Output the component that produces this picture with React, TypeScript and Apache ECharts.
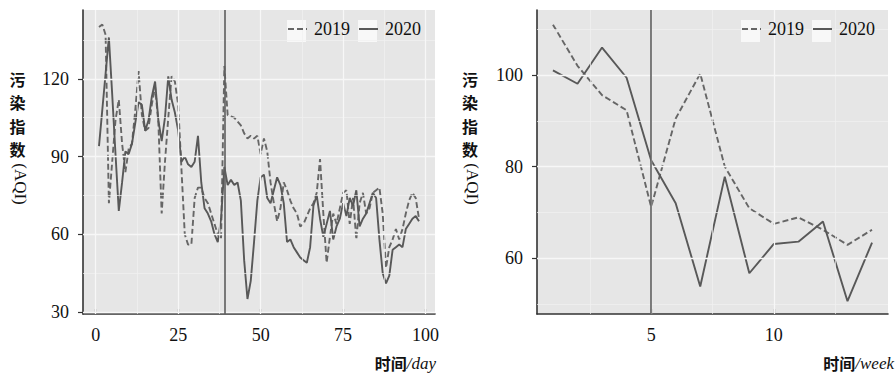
import React, { useEffect, useRef } from 'react';
import * as echarts from 'echarts';

// ---------- data ----------
const seriesNames = ['2019', '2020'];

// daily AQI, day 1..98
const dailyAqi2019 = [
  140, 141, 137, 72, 88, 104, 112, 95, 84, 93,
  95, 108, 123, 106, 100, 101, 110, 117, 103, 68,
  88, 105, 121, 119, 110, 85, 60, 56, 56, 74,
  78, 78, 74, 72, 68, 64, 60, 58, 125, 106,
  105.5, 105, 103.5, 102, 99, 97, 98, 97, 98, 91,
  97, 92, 80, 72, 65, 70, 80, 77, 73, 70,
  68, 63, 64, 67, 70, 72, 76, 89, 68, 49,
  59, 68, 64, 70, 76, 77, 64, 74, 58, 72,
  76, 68, 70, 76, 77, 78, 68, 47, 55, 58,
  62, 58, 62, 68, 73, 76, 74, 66,
];
const dailyAqi2020 = [
  94, 108, 122, 136, 114, 91, 69, 80, 92, 91,
  95, 103, 111, 110, 100, 104, 113, 119, 104, 96,
  105, 121, 112, 107, 100, 88, 90, 87, 86, 88,
  98, 80, 70, 68, 65, 60, 57, 66, 86, 79,
  81, 79, 80, 73, 50, 35, 42, 57, 73, 82,
  83, 74, 72, 77, 82, 79, 72, 57, 58, 55,
  53, 51, 50, 49, 55, 71, 75, 66, 59, 64,
  69, 58, 63, 66, 72, 67, 74, 71, 77, 63,
  66, 68, 72, 76, 74, 58, 45, 41, 44, 54,
  55, 56, 55, 62, 64, 66, 67, 65,
];

// weekly AQI, week 1..14
const weeklyAqi2019 = [111, 102, 95.6, 92.3, 71.2, 90.5, 100.3, 80, 70.9, 67.5, 68.9, 66.2, 62.9, 66.2];
const weeklyAqi2020 = [101, 98.1, 106, 99.4, 81.4, 72, 53.8, 77.8, 56.7, 63.1, 63.6, 68, 50.6, 63.4];

const dayTicks = [0, 25, 50, 75, 100];
const dayMinorTicks = [12.5, 37.5, 62.5, 87.5];
const dayAqiTicks = [30, 60, 90, 120];
const dayAqiMinorTicks = [45, 75, 105, 135];
const weekTicks = [5, 10];
const weekMinorTicks = [2.5, 7.5, 12.5];
const weekAqiTicks = [60, 80, 100];
const weekAqiMinorTicks = [50, 70, 90, 110];
const dayMarker = 39;
const weekMarker = 5;

// ---------- styles ----------
const SERIF = 'Liberation Serif';
const CJK = 'Noto Sans CJK SC';
const LINE_2019 = '#666666';
const LINE_2020 = '#585858';
const majorGrid = { color: '#f7f7f7', width: 1.3, type: 'solid' as const };
const minorGrid = { color: '#f1f1f1', width: 0.7, type: 'solid' as const };

function gridLines(xMajor: number[], xMinor: number[], yMajor: number[], yMinor: number[]) {
  return [
    ...xMinor.map((v) => ({ xAxis: v, lineStyle: minorGrid })),
    ...yMinor.map((v) => ({ yAxis: v, lineStyle: minorGrid })),
    ...xMajor.map((v) => ({ xAxis: v, lineStyle: majorGrid })),
    ...yMajor.map((v) => ({ yAxis: v, lineStyle: majorGrid })),
  ];
}

function xAxisCfg(gridIndex: number, min: number, max: number, ticks: number[]) {
  return {
    type: 'value',
    gridIndex,
    min,
    max,
    axisLine: { show: true, onZero: false, lineStyle: { color: '#333', width: 1.6 } },
    axisTick: { show: true, inside: true, length: 5, customValues: ticks, lineStyle: { color: '#333', width: 1.2 } },
    axisLabel: { customValues: ticks, fontFamily: SERIF, fontSize: 18, color: '#111', margin: 12 },
    splitLine: { show: false },
  };
}

function yAxisCfg(gridIndex: number, min: number, max: number, ticks: number[]) {
  return {
    type: 'value',
    gridIndex,
    min,
    max,
    axisLine: { show: true, onZero: false, lineStyle: { color: '#333', width: 1.6 } },
    axisTick: { show: true, inside: false, length: 5, customValues: ticks, lineStyle: { color: '#333', width: 1.2 } },
    axisLabel: { customValues: ticks, fontFamily: SERIF, fontSize: 18, color: '#111', margin: 14 },
    splitLine: { show: false },
  };
}

function lineSeries(name: string, values: number[], idx: number, dashed: boolean) {
  return {
    name,
    type: 'line',
    xAxisIndex: idx,
    yAxisIndex: idx,
    data: values.map((v, i) => [i + 1, v]),
    showSymbol: false,
    symbol: 'none',
    z: 3,
    lineStyle: {
      color: dashed ? LINE_2019 : LINE_2020,
      width: 1.9,
      type: dashed ? [6, 3] : 'solid',
    },
    itemStyle: { color: dashed ? LINE_2019 : LINE_2020 },
  };
}

function helperSeries(idx: number, lines: any[], z: number) {
  return {
    name: 'helper' + idx + '_' + z,
    type: 'line',
    xAxisIndex: idx,
    yAxisIndex: idx,
    data: [],
    z,
    silent: true,
    markLine: {
      silent: true,
      symbol: ['none', 'none'],
      label: { show: false },
      animation: false,
      data: lines,
    },
  };
}

function legendCfg(left: number) {
  return {
    left,
    top: 20,
    padding: 0,
    z: 6,
    itemWidth: 19,
    itemHeight: 22,
    itemGap: 8,
    data: seriesNames,
    selectedMode: false,
    itemStyle: { opacity: 0 },
    textStyle: { fontFamily: SERIF, fontSize: 18, color: '#111', padding: [0, 0, 0, 2] },
  };
}

function yName(x: number, xAqi: number) {
  return [
    {
      type: 'text',
      x,
      y: 67,
      z: 10,
      style: {
        text: '污\n染\n指\n数',
        align: 'center',
        verticalAlign: 'top',
        fontFamily: CJK,
        fontWeight: 'bold',
        fontSize: 16,
        lineHeight: 23.5,
        fill: '#111',
      },
    },
    {
      type: 'text',
      x: xAqi,
      y: 184,
      rotation: -Math.PI / 2,
      z: 10,
      style: {
        text: '(AQI)',
        align: 'center',
        verticalAlign: 'middle',
        fontFamily: SERIF,
        fontSize: 17,
        fill: '#111',
      },
    },
  ];
}

function xName(right: number, unit: string) {
  return {
    type: 'text',
    x: right,
    y: 363,
    z: 10,
    style: {
      text: '{a|时间}{b|/' + unit + '}',
      align: 'right',
      verticalAlign: 'middle',
      rich: {
        a: { fontFamily: CJK, fontWeight: 'bold', fontSize: 16, fill: '#111' },
        b: { fontFamily: SERIF, fontStyle: 'italic', fontSize: 17, fill: '#111' },
      },
    },
  };
}

function keyBoxes(xs: number[]) {
  return xs.map((x) => ({
    type: 'rect',
    z: 4,
    shape: { x, y: 20, width: 19, height: 22 },
    style: { fill: '#f8f8f8' },
  }));
}

export default function App() {
  const ref = useRef<HTMLDivElement>(null);

  useEffect(() => {
    document.body.style.margin = '0';
    if (!ref.current) return;
    const chart = echarts.init(ref.current, null, { renderer: 'svg' });
    const option: any = {
      animation: false,
      backgroundColor: '#ffffff',
      grid: [
        { left: 83, top: 10, width: 352, height: 304, show: true, backgroundColor: '#e6e6e6', borderWidth: 0 },
        { left: 537, top: 10, width: 351, height: 304, show: true, backgroundColor: '#e6e6e6', borderWidth: 0 },
      ],
      xAxis: [
        xAxisCfg(0, -3.85, 102.85, dayTicks),
        xAxisCfg(1, 0.35, 14.65, weekTicks),
      ],
      yAxis: [
        yAxisCfg(0, 29.2, 146.6, dayAqiTicks),
        yAxisCfg(1, 47.8, 114.2, weekAqiTicks),
      ],
      legend: [legendCfg(287), legendCfg(741)],
      series: [
        helperSeries(0, gridLines(dayTicks, dayMinorTicks, dayAqiTicks, dayAqiMinorTicks), 1),
        helperSeries(1, gridLines(weekTicks, weekMinorTicks, weekAqiTicks, weekAqiMinorTicks), 1),
        lineSeries(seriesNames[0], dailyAqi2019, 0, true),
        lineSeries(seriesNames[1], dailyAqi2020, 0, false),
        lineSeries(seriesNames[0], weeklyAqi2019, 1, true),
        lineSeries(seriesNames[1], weeklyAqi2020, 1, false),
        helperSeries(0, [{ xAxis: dayMarker, lineStyle: { color: '#5e5e5e', width: 1.6, type: 'solid' } }], 4),
        helperSeries(1, [{ xAxis: weekMarker, lineStyle: { color: '#5e5e5e', width: 1.6, type: 'solid' } }], 4),
      ],
      graphic: [
        ...keyBoxes([287, 358, 741, 812]),
        ...yName(17.5, 20),
        ...yName(470, 472),
        xName(436, 'day'),
        xName(894, 'week'),
      ],
    };
    chart.setOption(option);
    return () => chart.dispose();
  }, []);

  return <div ref={ref} style={{ width: 895, height: 374 }} />;
}
